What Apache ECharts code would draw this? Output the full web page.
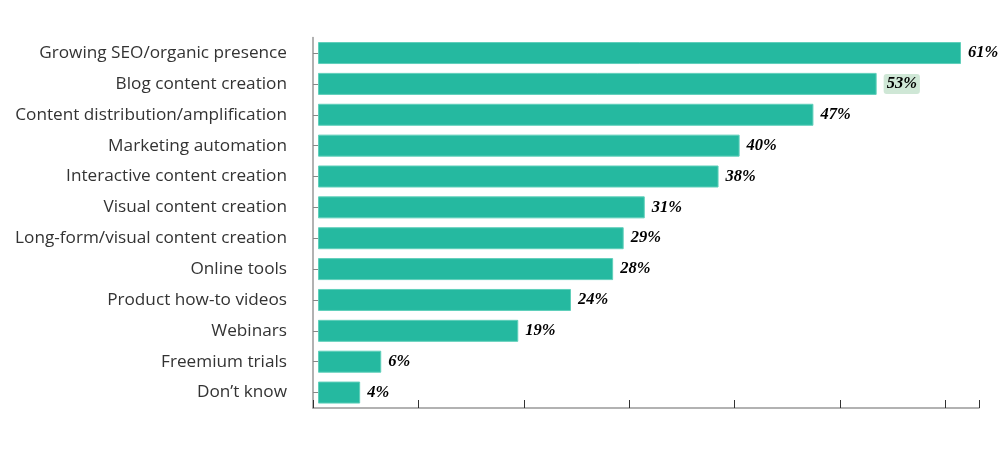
<!DOCTYPE html>
<html>
<head>
<meta charset="utf-8">
<script src="https://cdn.jsdelivr.net/npm/echarts@6/dist/echarts.min.js"></script>
<style>html,body{margin:0;padding:0;background:#fff;}#c{width:1005px;height:458px;}</style>
</head>
<body>
<div id="c"></div>
<script>
const categories = [
  "Growing SEO/organic presence",
  "Blog content creation",
  "Content distribution/amplification",
  "Marketing automation",
  "Interactive content creation",
  "Visual content creation",
  "Long-form/visual content creation",
  "Online tools",
  "Product how-to videos",
  "Webinars",
  "Freemium trials",
  "Don\u2019t know"
];
const values = [61, 53, 47, 40, 38, 31, 29, 28, 24, 19, 6, 4];
const highlighted = ["Blog content creation"];

const chart = echarts.init(document.getElementById('c'), null, {renderer: 'canvas'});
const gTop = 37.6, gHeight = 370.4;
const option = {
  animation: false,
  backgroundColor: '#ffffff',
  grid: [
    {left: 313, top: gTop, width: 666, height: gHeight},
    {left: 318, top: gTop, width: 661, height: gHeight}
  ],
  xAxis: [
    {type: 'value', gridIndex: 0, min: 0, max: 63.19, interval: 10,
     axisLine: {show: true, lineStyle: {color: '#999999', width: 1.5}},
     axisTick: {show: true, inside: true, length: 8, lineStyle: {color: '#333333', width: 1}},
     axisLabel: {show: false}, splitLine: {show: false}},
    {type: 'value', gridIndex: 1, min: 0, max: 62.71, show: false, splitLine: {show: false}}
  ],
  yAxis: [
    {type: 'category', gridIndex: 0, data: categories, inverse: true,
     axisLine: {show: true, lineStyle: {color: '#999999', width: 1.5}},
     axisTick: {show: true, inside: true, alignWithLabel: true, length: 6, lineStyle: {color: '#888888'}},
     axisLabel: {margin: 26, color: '#333333', fontSize: 17.2, fontFamily: 'Open Sans', padding: [0, 0, 3, 0]}},
    {type: 'category', gridIndex: 1, data: categories, inverse: true, show: false}
  ],
  series: [{
    type: 'bar', xAxisIndex: 1, yAxisIndex: 1,
    barWidth: 22,
    data: values.map((v, i) => {
      const d = {value: v};
      if (highlighted.includes(categories[i])) {
        d.label = {backgroundColor: '#cfe7d6', borderRadius: 3, padding: [2, 3, 1, 3]};
      }
      return d;
    }),
    itemStyle: {color: '#25b9a0', borderColor: '#5fcfba', borderWidth: 1},
    label: {show: true, position: 'right', distance: 7, formatter: '{c}%',
      color: '#000000', fontSize: 16.5, fontStyle: 'italic', fontWeight: 'bold',
      fontFamily: 'Liberation Serif'}
  }]
};
chart.setOption(option);
</script>
</body>
</html>
